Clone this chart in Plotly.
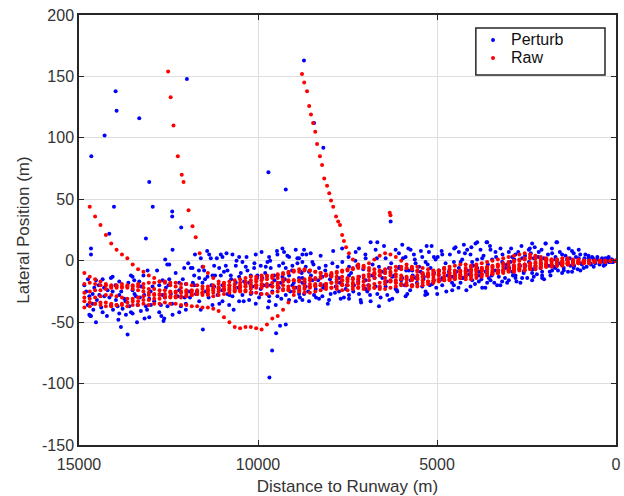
import plotly.graph_objects as go

# ---------------- Raw trajectories (shared distance grid, m) ----------------
RAW_GRID_X = [14850, 14700, 14550, 14400, 14250, 14100, 13950, 13800, 13650, 13500,
              13350, 13200, 13050, 12900, 12750, 12600, 12450, 12300, 12150, 12000,
              11850, 11700, 11550, 11400, 11250, 11100, 10950, 10800, 10650, 10500,
              10350, 10200, 10050, 9900, 9750, 9600, 9450, 9300, 9150, 9000,
              8850, 8700, 8550, 8400, 8250, 8100, 7950, 7800, 7650, 7500,
              7350, 7200, 7050, 6900, 6750, 6600, 6450, 6300, 6150, 6000,
              5850, 5700, 5550, 5400, 5250, 5100, 4950, 4800, 4650, 4500,
              4350, 4200, 4050, 3900, 3750, 3600, 3450, 3300, 3150, 3000,
              2850, 2700, 2550, 2400, 2250, 2100, 1950, 1800, 1650, 1500,
              1350, 1200, 1050, 900, 750, 600, 450, 300, 150, 0]

N = None
RAW_T1 = [N, 44, 36, 29, 21, 14, 9, 5, 2, -3,
          -7, -9, -12, -14, -17, -18, -20, -21, -22, -24,
          -25, -26, -26, -27, -26, -25, -24, -24, -23, -22,
          -21, -20, -20, -19, -19, -18, -18, -17, -17, -16,
          -16, -15, -14, -14, -13, -12, -11, -10, -9, -8,
          -7, -6, -4, -2, 1, 4, 6, 5, 3, 0,
          -3, -6, -8, -10, -11, -12, -12, -13, -12, -12,
          -11, -10, -9, -8, -7, -6, -6, -5, -5, -4,
          -4, -3, -3, -2, -2, -2, -1, -1, -1, -1,
          -1, 0, 0, 0, 0, 0, 0, 0, 0, 0]
RAW_T2 = [N, N, N, N, N, N, N, N, N, N,
          N, N, N, N, N, N, N, N, N, N,
          N, N, N, -10, -14, -17, -19, -20, -21, -20,
          -19, -18, -17, -16, -15, -14, -12, -11, -10, -9,
          -9, -8, -8, -9, -10, -12, -13, -15, -16, -17,
          -18, -18, -17, -16, -14, -12, -10, -9, -8, -7,
          -6, -5, -5, -6, -7, -8, -9, -10, -10, -9,
          -8, -6, -5, -3, -2, -1, 0, 1, 2, 3,
          4, 5, 6, 5, 4, 3, 2, 1, 1, 0,
          0, 0, -1, -1, -1, 0, 0, 0, 0, 0]
RAW_T3 = [-38, -37, -35, -34, -34, -35, -36, -36, -37, -36,
          -36, -35, -36, -35, -35, -34, -35, -35, -36, -36,
          -37, -37, -38, -38, -39, -41, -46, -50, -54, -55,
          -54, -54, -55, -56, -52, -47, -45, -40, -34, -28,
          -24, -22, -21, -20, -19, -19, -18, -18, -19, -20,
          -21, -22, -23, -23, -22, -21, -19, -17, -16, -15,
          -14, -14, -15, -16, -17, -17, -16, -15, -14, -13,
          -13, -12, -12, -11, -11, -10, -10, -9, -9, -8,
          -8, -7, -7, -6, -6, -5, -5, -4, -4, -3,
          -3, -3, -2, -2, -2, -1, -1, -1, 0, 0]
RAW_T4 = [N, N, N, N, N, N, N, N, N, N,
          N, N, N, N, N, N, N, N, N, N,
          N, N, N, N, N, N, N, N, N, N,
          N, N, N, N, N, N, N, N, N, N,
          N, N, N, N, N, N, N, N, N, N,
          1, -3, -6, -8, -10, -12, -14, -16, -18, -19,
          -20, -20, -19, -18, -17, -16, -15, -14, -13, -12,
          -12, -13, -13, -12, -11, -10, -9, -9, -8, -7,
          -6, -6, -5, -5, -4, -4, -3, -3, -2, -2,
          -2, -1, -1, -1, -1, 0, 0, 0, 0, 0]
RAW_T5 = [-10, -13, -15, -17, -19, -20, -21, -22, -22, -23,
          -24, -25, -26, -27, -28, -29, -29, -30, -30, -29,
          -28, -27, -26, -24, -23, -22, -21, -20, -19, -18,
          -17, -16, -15, -14, -13, -12, -11, -10, -9, -8,
          -7, -7, -8, -9, -10, -11, -12, -13, -13, -14,
          -15, -15, -14, -13, -11, -9, -7, -6, -5, -5,
          -6, -7, -9, -11, -13, -14, -15, -16, -16, -15,
          -14, -13, -11, -9, -8, -6, -5, -4, -3, -2,
          -1, 0, 1, 2, 2, 1, 1, 0, 0, -1,
          -1, -1, -1, 0, 0, 0, 0, 0, 0, 0]
RAW_T6 = [-19, -18, -19, -20, -20, -21, -20, -19, -20, -21,
          -21, -22, -23, -23, -24, -24, -25, -25, -26, -26,
          -27, -27, -28, -28, -29, -28, -27, -26, -25, -25,
          -24, -23, -22, -22, -21, -21, -20, -20, -21, -22,
          -23, -23, -22, -21, -20, -19, -18, -17, -16, -15,
          -14, -13, -12, -11, -10, -9, -9, -10, -11, -12,
          -13, -13, -12, -11, -10, -9, -8, -7, -7, -8,
          -9, -9, -8, -7, -6, -5, -4, -3, -2, -1,
          0, 1, 2, 3, 3, 2, 1, 0, -1, -1,
          -2, -2, -1, -1, -1, 0, 0, 0, 0, 0]
RAW_T7 = [-33, -34, -35, -36, -37, -37, -36, -35, -34, -33,
          -33, -32, -32, -31, -31, -30, -30, -29, -29, -28,
          -28, -27, -26, -25, -24, -23, -23, -22, -22, -21,
          -21, -21, -20, -20, -20, -21, -22, -23, -24, -25,
          -25, -26, -26, -25, -24, -23, -22, -21, -20, -20,
          -19, -19, -20, -21, -22, -23, -23, -22, -21, -20,
          -18, -16, -14, -13, -12, -11, -11, -10, -10, -10,
          -9, -8, -7, -7, -8, -9, -10, -10, -9, -8,
          -7, -6, -5, -4, -4, -3, -3, -3, -2, -2,
          -2, -1, -1, -1, 0, 0, 0, 0, 0, 0]
RAW_T8 = [-26, -25, -24, -24, -23, -22, -22, -21, -21, -20,
          -19, -19, -18, -18, -17, -17, -18, -18, -19, -19,
          -20, -20, -21, -21, -20, -19, -18, -17, -16, -15,
          -14, -13, -13, -12, -12, -13, -14, -15, -16, -16,
          -17, -17, -16, -15, -14, -12, -10, -9, -8, -7,
          -6, -5, -5, -6, -7, -8, -10, -12, -13, -14,
          -15, -15, -14, -13, -12, -10, -8, -6, -5, -4,
          -3, -3, -4, -5, -6, -7, -8, -8, -7, -6,
          -5, -4, -3, -2, -1, -1, 0, 1, 1, 2,
          2, 1, 1, 0, 0, 0, 0, 0, 0, 0]
RAW_T9 = [-30, -31, -30, -29, -28, -28, -29, -30, -31, -31,
          -30, -29, -28, -28, -27, -27, -26, -26, -25, -25,
          -24, -24, -23, -23, -22, -22, -23, -23, -24, -24,
          -25, -26, -26, -27, -27, -26, -25, -24, -23, -22,
          -21, -20, -19, -19, -20, -21, -22, -23, -24, -24,
          -23, -22, -21, -20, -19, -18, -17, -17, -18, -19,
          -20, -21, -21, -20, -19, -18, -17, -16, -15, -14,
          -14, -15, -15, -14, -13, -12, -11, -10, -10, -9,
          -9, -8, -8, -7, -7, -6, -5, -5, -4, -4,
          -3, -3, -2, -2, -2, -1, -1, -1, 0, 0]

# steep "jump" segments of the raw data
RAW_JUMP1_X = [12510, 12440, 12360, 12240, 12130, 12080, 11940, 11830, 11740, 11630, 11530]
RAW_JUMP1_Y = [154, 133, 110, 85, 70, 64, 41, 28, 19, 6, -5]
RAW_JUMP2_X = [8770, 8710, 8630, 8570, 8520, 8460, 8400, 8350, 8270, 8210, 8150,
               8070, 8010, 7960, 7900, 7820, 7760, 7710, 7650, 7600, 7540, 7460]
RAW_JUMP2_Y = [152, 145, 138, 126, 119, 112, 105, 95, 85, 78, 67,
               61, 55, 49, 44, 36, 32, 29, 21, 16, 11, 6]
RAW_ISOLATED_X = [6320, 6300]
RAW_ISOLATED_Y = [39, 37]

# ---------------- Perturb points ----------------
PERTURB_X_A = [14154, 13131, 14665, 14665, 12387, 12592, 12480, 12062, 11876, 13085,
               14061, 14108, 13550, 13503, 14526, 14340, 13875, 13457, 13317, 12666,
               12480, 12201, 12015, 14851, 14573, 14201, 14061, 13875, 13503, 13271,
               12945, 12759, 12573, 12201, 11922, 14619, 14712, 14433, 14294, 13968,
               13736, 13410, 13178, 13038, 12666, 12434, 12248, 14758, 14619, 14108,
               13922, 13782, 13596, 13364, 13131, 12992, 12713, 12527, 12155, 12015,
               14712, 14665, 14340, 13875, 13689, 13503, 13271, 13038, 12759, 12620,
               12387, 12015, 14526, 13829, 13643,
               14285, 13977, 13950, 13317, 14656, 13038, 14023, 12940, 12396, 12396,
               12145, 11986, 13169, 12639, 14684, 12535]
PERTURB_Y_A = [22, 18, 10, 5, 9, 1, -3, -6, -6, -8,
               -13, -14, -12, -13, -16, -15, -17, -16, -17, -16,
               -15, -18, -19, -20, -22, -24, -25, -28, -24, -21,
               -21, -20, -22, -24, -25, -27, -29, -28, -29, -32,
               -31, -29, -28, -31, -28, -27, -29, -36, -35, -36,
               -37, -39, -37, -36, -37, -36, -36, -37, -37, -35,
               -44, -45, -42, -43, -44, -43, -41, -46, -42, -47,
               -44, -40, -50, -54, -60,
               102, 138, 122, 116, 85, 64, 44, 44, 40, 36,
               27, 148, -47, -49, -45, -3]

PERTURB_X_B = [11597, 11364, 11318, 11039, 10992, 10713, 10527, 10434, 10062, 9690,
               9737, 9458, 9318, 9272, 9132, 8946, 8853, 8760, 11829, 11550,
               11504, 11225, 11085, 10899, 10853, 10620, 10341, 10295, 10109, 9923,
               9783, 9644, 9411, 9225, 9039, 8899, 11783, 11643, 11411, 11271,
               11039, 10760, 10527, 10202, 10016, 9876, 9550, 9318, 9132, 8853,
               11783, 11550, 11225, 10992, 10620, 10388, 10155, 9923, 9644, 9365,
               9039, 8760, 11736, 11457, 11132, 10853, 10713, 10434, 10202, 9923,
               9690, 9458, 9225, 8853, 11643, 11271, 10992, 10806, 10527, 10248,
               10062, 9690, 9504, 9132, 8946,
               11540, 9494, 9383, 9224, 9681, 9606, 9709, 9224]
PERTURB_Y_B = [2, 5, 2, 5, 3, 5, 3, -1, 5, 3,
               -1, 5, 10, 7, 3, 9, 2, 5, -6, -5,
               -8, -4, -6, -4, -8, -4, -5, -8, -6, -4,
               -5, -6, -4, -6, -4, -2, -12, -14, -13, -12,
               -12, -12, -13, -12, -12, -14, -12, -13, -12, -14,
               -20, -18, -21, -20, -18, -17, -21, -23, -20, -18,
               -20, -18, -27, -25, -28, -27, -29, -28, -27, -27,
               -29, -29, -28, -27, -33, -36, -33, -36, -33, -32,
               -35, -33, -36, -32, -33,
               -56, -59, -53, -52, -95, -73, 72, 58]

PERTURB_X_C = [8714, 8528, 8481, 8760, 8667, 8807, 8574, 8295, 8109, 7923,
               7644, 7458, 7226, 7179, 7272, 6854, 6668, 6714, 6435, 6156,
               6063, 5877, 5738, 5970, 6993, 6621, 6342, 6063, 5784, 8760,
               8481, 8202, 7970, 7737, 7458, 7179, 6993, 6807, 6528, 6249,
               5970, 5738, 8667, 8388, 8156, 7830, 7551, 7319, 6993, 6714,
               6435, 6156, 5877, 8714, 8435, 8202, 7970, 7737, 7458, 7179,
               6947, 6668, 6389, 6110, 5830, 8760, 8574, 8295, 8016, 7690,
               7458, 7133, 6854, 6575, 6249, 5877, 6621,
               8716, 8434, 8175, 6295]
PERTURB_Y_C = [9, 6, -1, -1, -5, -9, -9, -6, -4, -2,
               -1, -5, -4, 10, 7, 15, 15, 9, 2, 9,
               6, 3, 9, 13, 2, -5, -6, -6, -8, -14,
               -16, -13, -12, -14, -12, -13, -16, -12, -14, -13,
               -14, -16, -21, -23, -20, -21, -23, -20, -23, -21,
               -21, -23, -20, -27, -28, -29, -27, -25, -28, -27,
               -25, -27, -28, -25, -27, -32, -33, -31, -32, -31,
               -31, -32, -33, -30, -31, -29, -37,
               163, 112, 92, 32]

PERTURB_X_D = [5645, 5412, 5226, 5087, 4854, 4482, 4389, 4250, 4157, 4064,
               3924, 3784, 3599, 3506, 3366, 3227, 2994, 2901, 5598, 5319,
               5040, 4761, 4528, 4296, 4017, 3738, 3459, 3180, 2948, 5691,
               5459, 5180, 4947, 4668, 4389, 4157, 3878, 3645, 3366, 3087,
               2855, 5598, 5366, 5087, 4854, 4575, 4296, 4017, 3831, 3552,
               3273, 2994, 5691, 5412, 5133, 4854, 4528, 4343, 4064, 3831,
               3599, 3320, 3041, 5319, 5273, 4994, 4575, 3738, 3506, 3180,
               5290, 3878, 3616]
PERTURB_Y_D = [5, 3, 7, 3, 5, 11, 7, 13, 9, 5,
               14, 9, 15, 9, 7, 10, 7, 3, -2, -1,
               1, -2, -1, 1, -1, 2, 1, -1, -1, -8,
               -9, -6, -8, -9, -6, -8, -6, -9, -8, -6,
               -9, -14, -13, -16, -14, -13, -14, -16, -12, -14,
               -13, -16, -20, -21, -19, -20, -20, -18, -21, -17,
               -18, -20, -18, -25, -27, -27, -24, -22, -16, -17,
               12, 15, 15]

PERTURB_X_E = [2343, 1971, 1646, 1320, 1041, 2436, 2157, 1785, 1506, 1181,
               855, 669, 390, 204, 2808, 2622, 2297, 2018, 1692, 1367,
               1041, 762, 530, 297, 111, 2854, 2529, 2250, 1878, 1599,
               1274, 995, 716, 437, 204, 2901, 2576, 2343, 2064, 1785,
               1459, 1181, 902, 623, 344, 2808, 2622, 2297, 2064, 1831,
               1506, 1227, 995, 2669, 2343, 2064, 2808, 1692, 762, 576,
               250, 111, 1663, 1961, 2408]
PERTURB_Y_E = [14, 14, 15, 10, 9, 9, 7, 6, 5, 6,
               5, 3, 2, 3, 5, 2, 2, 2, 1, 1,
               2, 2, 1, 2, 1, -4, -4, -5, -4, -2,
               -4, -2, -2, -1, -1, -9, -9, -10, -9, -8,
               -8, -6, -6, -5, -4, -14, -14, -13, -12, -12,
               -10, -9, -8, -18, -16, -14, -12, -6, 0, -1,
               0, -1, 15, 14, 10]

# additional perturb points read from the denser parts of the cloud
PERTURB_X_F = [14800, 14750, 14600, 14500, 14450, 14380, 14300, 14220, 14150, 14050,
               13980, 13900, 13820, 13700, 13620, 13550, 13450, 13380, 13300, 13200,
               13100, 13000, 12900, 12820, 12700, 12600, 12500, 12400, 12300, 12200,
               12100, 12050]
PERTURB_Y_F = [-25, -15, -40, -32, -20, -38, -22, -45, -30, -40,
               -20, -48, -25, -33, -18, -42, -27, -50, -30, -12,
               -40, -25, -33, -8, -45, -30, -20, -35, -10, -42,
               -15, -30]
PERTURB_X_G = [11950, 11900, 11820, 11760, 11700, 11650, 11600, 11480, 11420, 11380,
               11300, 11200, 11150, 11080, 11000, 10950, 10880, 10800, 10750, 10680,
               10600, 10550, 10480, 10400, 10320, 10250, 10180, 10100, 10030, 9970,
               9900, 9850, 9800, 9720, 9660, 9600, 9540, 9470, 9420, 9350,
               9300, 9250, 9180, 9100, 9050, 9000]
PERTURB_Y_G = [-2, -30, -18, 5, -25, -8, -40, -15, 8, -30,
               -20, -12, 2, -35, -24, -9, 6, -28, -15, -40,
               0, -22, -10, -33, 3, -18, -26, -2, -14, -30,
               7, -20, -10, -38, 0, -25, -16, 8, -22, -31,
               -2, -15, 4, -25, -8, -18]
PERTURB_X_H = [8950, 8900, 8830, 8780, 8700, 8650, 8600, 8520, 8450, 8380,
               8320, 8250, 8180, 8120, 8050, 7990, 7900, 7850, 7780, 7720,
               7650, 7600, 7520, 7470, 7400, 7340, 7280, 7200, 7120, 7060,
               7000, 6920, 6870, 6800, 6740, 6680, 6600, 6540, 6480, 6400,
               6330, 6280, 6200, 6120, 6050, 6000]
PERTURB_Y_H = [-22, 2, -30, -10, -18, 5, -25, -12, -3, -30,
               -16, 4, -22, -8, -35, -15, 8, -26, -5, -18,
               10, -30, -20, 3, -10, -25, 0, -17, -34, -7,
               5, -20, -28, -3, -14, 2, -22, -9, 12, -17,
               -32, -2, -12, -24, -5, -16]
PERTURB_X_I = [5950, 5900, 5860, 5800, 5750, 5680, 5620, 5560, 5500, 5450,
               5380, 5330, 5260, 5200, 5150, 5080, 5020, 4980, 4920, 4870,
               4800, 4740, 4700, 4640, 4580, 4520, 4460, 4400, 4340, 4280,
               4220, 4180, 4100, 4040, 3990, 3940, 3880, 3820, 3760, 3700,
               3650, 3580, 3520, 3470, 3400, 3350, 3290, 3230, 3170, 3100,
               3050]
PERTURB_Y_I = [2, -20, -8, 10, -24, -12, 1, -18, -5, 8,
               -15, -28, -3, -20, 12, -10, -22, 3, -16, 8,
               -6, -25, -12, 5, -18, 10, -9, -22, -1, -14,
               6, -24, -11, 11, -4, -19, 1, -9, -15, 4,
               -22, -3, 12, -12, -18, 3, -8, -20, 5, -14,
               -3]
PERTURB_X_J = [2980, 2930, 2880, 2840, 2780, 2730, 2680, 2640, 2580, 2540,
               2480, 2430, 2380, 2330, 2270, 2210, 2170, 2110, 2080, 2010,
               1950, 1900, 1850, 1790, 1740, 1690, 1620, 1570, 1520, 1460,
               1410, 1340, 1290, 1230, 1170, 1120, 1070, 1000, 950, 880,
               820, 770, 700, 640, 580, 520, 460, 400, 350, 300,
               230, 180, 130, 80, 40]
PERTURB_Y_J = [-6, 10, -12, 1, -17, 7, -4, 12, -10, 4,
               -14, -1, 6, -7, 11, -11, 3, -6, 9, -15,
               -3, 5, -9, 10, -5, 3, -8, 7, -3, -6,
               4, -9, 2, 8, -4, 3, -7, 5, -3, 2,
               -5, 4, -3, 2, -2, 3, -3, 1, -1, -3,
               2, -1, 1, -1, 0]

# axis ticks
X_TICKS = [15000, 10000, 5000, 0]
Y_TICKS = [-150, -100, -50, 0, 50, 100, 150, 200]

# ---------------- assemble ----------------
perturb_x = (PERTURB_X_A + PERTURB_X_B + PERTURB_X_C + PERTURB_X_D + PERTURB_X_E
             + PERTURB_X_F + PERTURB_X_G + PERTURB_X_H + PERTURB_X_I + PERTURB_X_J)
perturb_y = (PERTURB_Y_A + PERTURB_Y_B + PERTURB_Y_C + PERTURB_Y_D + PERTURB_Y_E
             + PERTURB_Y_F + PERTURB_Y_G + PERTURB_Y_H + PERTURB_Y_I + PERTURB_Y_J)

raw_x, raw_y = [], []
for traj in (RAW_T1, RAW_T2, RAW_T3, RAW_T4, RAW_T5, RAW_T6, RAW_T7, RAW_T8, RAW_T9):
    for gx, gy in zip(RAW_GRID_X, traj):
        if gy is not None:
            raw_x.append(gx)
            raw_y.append(gy)
for xs, ys in ((RAW_JUMP1_X, RAW_JUMP1_Y), (RAW_JUMP2_X, RAW_JUMP2_Y),
               (RAW_ISOLATED_X, RAW_ISOLATED_Y)):
    raw_x += xs
    raw_y += ys

FONT = "Liberation Sans, Arial, Helvetica, sans-serif"
AX = "#262626"
TXT = "#333333"
BLUE = "#0000ff"
RED = "#ff0000"

fig = go.Figure()
fig.add_trace(go.Scatter(x=perturb_x, y=perturb_y, mode="markers", name="Perturb",
                         marker=dict(color=BLUE, size=4, line=dict(width=0))))
fig.add_trace(go.Scatter(x=raw_x, y=raw_y, mode="markers", name="Raw",
                         marker=dict(color=RED, size=4, line=dict(width=0))))

axis_common = dict(showgrid=True, gridcolor="#dedede", gridwidth=1, zeroline=False,
                   showline=True, linecolor=AX, linewidth=1.5, mirror="ticks",
                   ticks="inside", ticklen=5, tickcolor=AX, tickwidth=1.2,
                   automargin=False,
                   tickfont=dict(family=FONT, size=16, color=TXT))

# legend drawn as a boxed key in the upper right corner
LEGEND_LABELS = ["Perturb", "Raw"]
LEGEND_COLORS = [BLUE, RED]
LEGEND_ROWS = [0.942, 0.900]
shapes = [dict(type="rect", xref="paper", yref="paper", x0=0.739, x1=0.9795,
               y0=0.8605, y1=0.9698, line=dict(color=AX, width=1.5),
               fillcolor="white", layer="above")]
annotations = []
for lab, col, ry in zip(LEGEND_LABELS, LEGEND_COLORS, LEGEND_ROWS):
    shapes.append(dict(type="circle", xref="paper", yref="paper",
                       xsizemode="pixel", ysizemode="pixel",
                       xanchor=0.771, yanchor=ry, x0=-2, x1=2, y0=-2, y1=2,
                       fillcolor=col, line=dict(width=0), layer="above"))
    annotations.append(dict(text=lab, xref="paper", yref="paper", x=0.8, y=ry,
                            xanchor="left", yanchor="middle", showarrow=False,
                            font=dict(family=FONT, size=16, color="#111111")))

fig.update_layout(
    width=624, height=496,
    margin=dict(l=79, r=8, t=15, b=51),
    paper_bgcolor="white", plot_bgcolor="white",
    xaxis=dict(range=[15000, 0], tickvals=X_TICKS,
               ticktext=[str(v) for v in X_TICKS], ticklabelstandoff=4,
               title=dict(text="Distance to Runway (m)", standoff=8,
                          font=dict(family=FONT, size=17, color=TXT)),
               **axis_common),
    yaxis=dict(range=[-150, 200], tickvals=Y_TICKS,
               ticktext=[str(v) for v in Y_TICKS],
               title=dict(text="Lateral Position (m)", standoff=8,
                          font=dict(family=FONT, size=17, color=TXT)),
               **axis_common),
    showlegend=False,
    shapes=shapes,
    annotations=annotations,
)

fig.write_html("out.html")
